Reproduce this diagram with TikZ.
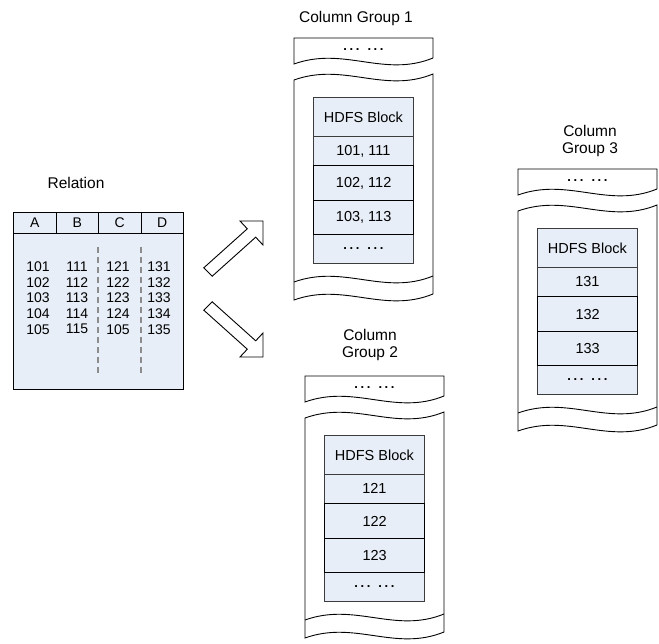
\documentclass[tikz,border=0pt]{standalone}
\usepackage{fontspec}
\setmainfont{Liberation Sans}
\definecolor{cellfill}{HTML}{E8EEF7}
\definecolor{cellline}{HTML}{3C3C3C}
\definecolor{dashgray}{HTML}{8C8C8C}
\newcommand\dotrow{.\kern2.6pt.\kern2.6pt.\kern8pt.\kern2.6pt.\kern2.6pt.}
\newcommand\colgroup[6]{%
\begin{scope}[shift={(#2,#3)}]
  \draw[paper] (0,0) -- (139,0) -- (139,20) .. controls (90,40) and (50,8) .. (0,26) -- cycle;
  \draw[paper] (0,42) .. controls (50,24) and (90,56) .. (139,36) -- (139,256)
     .. controls (90,276) and (50,244) .. (0,262) -- cycle;
  \draw[paper] (0,244) .. controls (50,226) and (90,258) .. (139,238);
  \node[dots] (#1top) at (69.5,12) {\dotrow};
  \node[cell, anchor=north west, minimum height=39pt] (#1h) at (19,59) {HDFS Block};
  \node[cell, anchor=north west, minimum height=29pt] (#1a) at (19,98) {#4};
  \node[cell, dots, anchor=north west, minimum height=29pt] (#1d) at (19,196) {\dotrow};
  \node[boldcell, anchor=north west, minimum height=35pt] (#1b) at (19,127) {#5};
  \node[boldcell, anchor=north west, minimum height=34pt] (#1c) at (19,162) {#6};
\end{scope}}
\begin{document}
\begin{tikzpicture}[x=1pt,y=-1pt, line join=miter,
  title/.style={font=\fontsize{15.5}{17}\selectfont, align=center, inner sep=0pt},
  txt/.style={font=\fontsize{14.5}{15.5}\selectfont, inner sep=0pt},
  dots/.style={font=\fontsize{13}{15}\selectfont\bfseries, inner sep=0pt},
  reltxt/.style={font=\fontsize{14}{15.6}\selectfont, inner sep=0pt},
  cell/.style={draw=cellline, fill=cellfill, line width=0.8pt, txt, minimum width=100pt},
  boldcell/.style={cell, draw=black, line width=1.3pt},
  paper/.style={draw=black, fill=white, line width=0.9pt},
  hcell/.style={draw=black, fill=cellfill, line width=0.9pt, reltxt, minimum width=42.5pt, minimum height=21pt, anchor=north west},
  colrows/.style={reltxt, align=center},
  splitline/.style={draw=dashgray, line width=2pt, dash pattern=on 6pt off 4pt},
  blockarrow/.style={draw=black, fill=white, line width=0.9pt}]
\useasboundingbox (0,0) rectangle (659,644);

% Relation table
\node[title] (reltitle) at (76,183) {Relation};
\node[draw=black, fill=cellfill, line width=0.9pt, minimum width=170pt, minimum height=177pt, anchor=north west, inner sep=0pt] (rel) at (13,212) {};
\node[hcell] (hA) at (13,212) {A};
\node[hcell] (hB) at (55.5,212) {B};
\node[hcell] (hC) at (98,212) {C};
\node[hcell] (hD) at (140.5,212) {D};
\node[colrows] (cA) at (38,298) {101\\102\\103\\104\\105};
\node[colrows] (cB) at (77,298) {111\\112\\113\\114\\115};
\node[colrows] (cC) at (118,298) {121\\122\\123\\124\\105};
\node[colrows] (cD) at (159,298) {131\\132\\133\\134\\135};
\coordinate (s1a) at (98,247); \coordinate (s1b) at (98,373);
\coordinate (s2a) at (141,247); \coordinate (s2b) at (141,373);
\draw[splitline] (s1a) -- (s1b);
\draw[splitline] (s2a) -- (s2b);

% block arrows
\draw[blockarrow] (203.8,267.8) -- (247.3,228.8) -- (240,221) -- (263,221) -- (263,245) -- (255.7,237.2) -- (212.2,276.2) -- cycle;
\draw[blockarrow] (203.8,310.2) -- (247.3,349.2) -- (240,357) -- (263,357) -- (263,333) -- (255.7,340.8) -- (212.2,301.8) -- cycle;

% column groups
\node[title] (g1title) at (356,18) {Column Group 1};
\colgroup{ga}{294}{38}{101, 111}{102, 112}{103, 113}
\node[title] (g2title) at (370,345) {Column\\Group 2};
\colgroup{gb}{305}{376}{121}{122}{123}
\node[title] (g3title) at (590,141) {Column\\Group 3};
\colgroup{gc}{518}{169}{131}{132}{133}
\end{tikzpicture}
\end{document}
